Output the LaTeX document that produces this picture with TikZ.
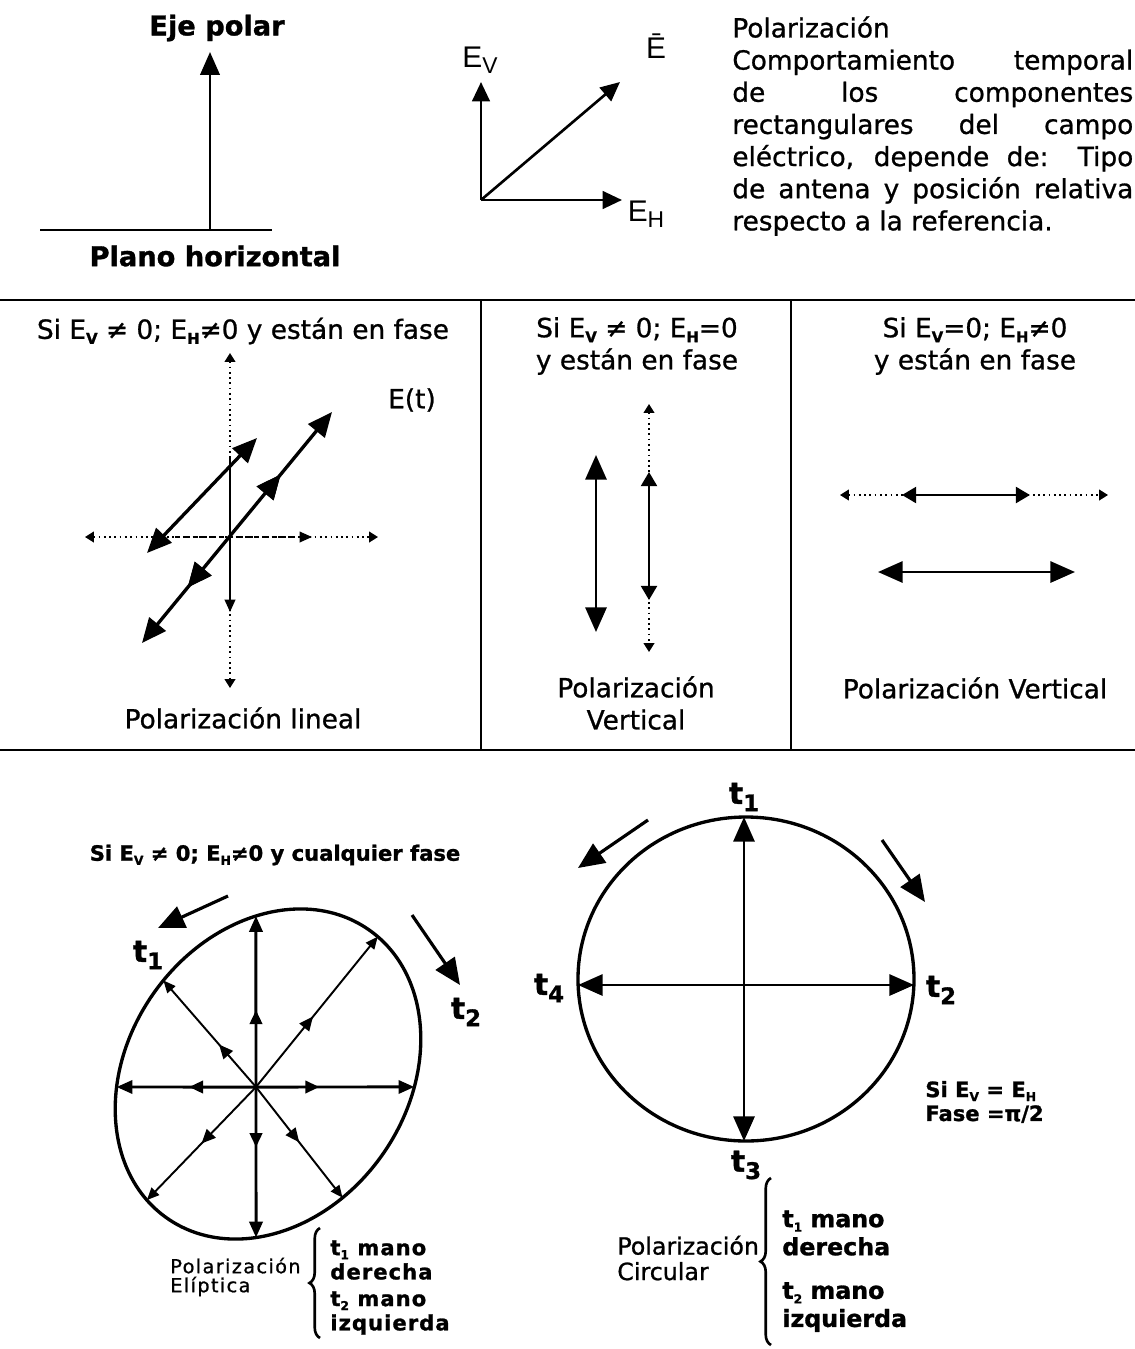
\documentclass[tikz,border=0pt]{standalone}
\usepackage{fontspec}
\setmainfont{DejaVu Sans}[UprightFeatures={FakeBold=0.9}, BoldFeatures={FakeBold=1.2}]
\newfontfamily\arialfont{Liberation Sans}
\usetikzlibrary{arrows.meta, positioning, calc, intersections, decorations.pathreplacing, decorations.markings}
\newcommand{\lowsub}[1]{\raisebox{-0.35ex}{\fontsize{8.5}{8.5}\selectfont\bfseries #1}}
\newcommand{\lowsubs}[1]{\raisebox{-0.35ex}{\fontsize{7}{7}\selectfont\bfseries #1}}
\newcommand{\tlabel}[1]{\textbf{t}\raisebox{-0.45ex}{\fontsize{13}{13}\selectfont #1}}

\begin{document}
\begin{tikzpicture}[
  x=0.02cm, y=-0.02cm,
  every node/.style={inner sep=0pt, font=\fontsize{15}{18.3}\selectfont},
  headText/.style={font=\bfseries\fontsize{15.5}{18}\selectfont},
  vecLabel/.style={font=\arialfont\fontsize{17}{17}\selectfont},
  heavyText/.style={font=\bfseries\fontsize{12}{13.6}\selectfont},
  braceText/.style={font=\bfseries\fontsize{12}{13.8}\selectfont\addfontfeature{LetterSpace=5}, align=left, anchor=west},
  smallText/.style={font=\fontsize{11}{10.8}\selectfont\addfontfeature{LetterSpace=7}, align=left, anchor=west},
  tText/.style={font=\bfseries\fontsize{17}{17}\selectfont},
  frameLine/.style={line width=1.6pt},
  vecLine/.style={line width=1.5pt},
  bigTips/.style={{Triangle[length=14pt,width=12pt]}-{Triangle[length=14pt,width=12pt]}},
  midTips/.style={{Triangle[length=8pt,width=9pt]}-{Triangle[length=8pt,width=9pt]}},
  tinyTips/.style={{Triangle[length=5pt,width=6pt]}-{Triangle[length=5pt,width=6pt]}},
  dotAxis/.style={line width=1pt, dotted},
  axisRay/.style={line width=1.7pt, -{Triangle[length=9pt,width=7.5pt]}},
  diagRay/.style={line width=1.1pt, -{Triangle[length=7pt,width=6pt]}},
  midTip/.style={postaction={decorate}, decoration={markings, mark=at position #1 with {\arrow{Triangle[length=8pt,width=7pt]}}}},
  backTip/.style={postaction={decorate}, decoration={markings, mark=at position #1 with {\arrowreversed{Triangle[length=14pt,width=12pt]}}}},
  fwdTip/.style={postaction={decorate}, decoration={markings, mark=at position #1 with {\arrow{Triangle[length=14pt,width=12pt]}}}},
  turnArrow/.style={line width=1.8pt, -{Triangle[length=15pt,width=13pt]}}
]
\useasboundingbox (0,0) rectangle (1135,1349);

% eje polar
\coordinate (planeL) at (40,230);
\coordinate (planeR) at (272,230);
\coordinate (axisFoot) at (210,230);
\coordinate (axisTop) at (210,52);
\draw[frameLine] (planeL) -- (planeR);
\draw[vecLine, -{Triangle[length=13pt,width=11pt]}] (axisFoot) -- (axisTop);
\node[headText] (ejeLabel) at (217,28) {Eje polar};
\node[headText] (planoLabel) at (215,256) {Plano horizontal};

% componentes
\coordinate (org) at (481,200);
\coordinate (evTip) at (481,82);
\coordinate (ehTip) at (622,200);
\coordinate (eTip) at (620,82);
\draw[vecLine, -{Triangle[length=11pt,width=10pt]}] (org) -- (evTip);
\draw[vecLine, -{Triangle[length=11pt,width=10pt]}] (org) -- (ehTip);
\draw[vecLine, -{Triangle[length=11pt,width=10pt]}] (org) -- (eTip);
\node[vecLabel] (evLabel) at (480,60) {E\raisebox{-0.4ex}{\fontsize{13}{13}\selectfont V}};
\node[vecLabel] (eLabel) at (656,46) {Ē};
\node[vecLabel] (ehLabel) at (646,214) {E\raisebox{-0.4ex}{\fontsize{13}{13}\selectfont H}};

\node[anchor=north west, text width=8.02cm, align=justify] (polDesc) at (732,16) {%
  Polarización\\
  Comportamiento temporal\linebreak
  de los componentes\linebreak
  rectangulares del campo\linebreak
  eléctrico, depende de: Tipo\linebreak
  de antena y posición relativa\linebreak
  respecto a la referencia.};

% marcos
\coordinate (ruleAL) at (0,300);
\coordinate (ruleAR) at (1135,300);
\coordinate (ruleBL) at (0,750);
\coordinate (ruleBR) at (1135,750);
\coordinate (divA1) at (481,300);
\coordinate (divA2) at (481,750);
\coordinate (divB1) at (791,300);
\coordinate (divB2) at (791,750);
\draw[frameLine] (ruleAL) -- (ruleAR);
\draw[frameLine] (ruleBL) -- (ruleBR);
\draw[line width=1.2pt] (divA1) -- (divA2);
\draw[line width=1.2pt] (divB1) -- (divB2);

% lineal
\node (linTitle) at (243,331) {Si E\lowsub{V} ≠ 0; E\lowsub{H}≠0 y están en fase};
\node (linCaption) at (243,718) {Polarización lineal};
\node (etLabel) at (412,400) {E(t)};
\coordinate (vTop) at (230,353);
\coordinate (vBot) at (230,688);
\coordinate (vSolidA) at (230,457);
\coordinate (vSolidB) at (230,612);
\coordinate (hLeft) at (85,537);
\coordinate (hRight) at (378,537);
\coordinate (hDashA) at (175,537);
\coordinate (hDashB) at (312,537);
\coordinate (aOneLo) at (147,553);
\coordinate (aOneHi) at (257,438);
\coordinate (aTwoLo) at (142,643);
\coordinate (aTwoHi) at (332,412);
\draw[dotAxis, tinyTips] (vTop) -- (vBot);
\draw[dotAxis, tinyTips] (hLeft) -- (hRight);
\draw[line width=1.1pt, -{Triangle[length=7pt,width=6pt]}] (vSolidA) -- (vSolidB);
\draw[line width=1pt, densely dashed, -{Triangle[length=7pt,width=6pt]}] (hDashA) -- (hDashB);
\draw[line width=1.9pt, bigTips] (aOneLo) -- (aOneHi);
\draw[line width=1.9pt, bigTips, fwdTip=0.73, backTip=0.24] (aTwoLo) -- (aTwoHi);

% vertical
\node[align=center] (verTitle) at (637,346) {Si E\lowsub{V} ≠ 0; E\lowsub{H}=0\\y están en fase};
\node[align=center] (verCaption) at (636,703) {Polarización\\Vertical};
\coordinate (pvA1) at (596,455);
\coordinate (pvA2) at (596,632);
\coordinate (pvB1) at (649,404);
\coordinate (pvB2) at (649,472);
\coordinate (pvB3) at (649,600);
\coordinate (pvB4) at (649,652);
\draw[vecLine, bigTips] (pvA1) -- (pvA2);
\draw[dotAxis, tinyTips] (pvB1) -- (pvB4);
\draw[vecLine, midTips] (pvB2) -- (pvB3);

% horizontal
\node[align=center] (horTitle) at (975,346) {Si E\lowsub{V}=0; E\lowsub{H}≠0\\y están en fase};
\node (horCaption) at (975,688) {Polarización Vertical};
\coordinate (phA1) at (840,495);
\coordinate (phA2) at (902,495);
\coordinate (phA3) at (1030,495);
\coordinate (phA4) at (1108,495);
\coordinate (phB1) at (878,572);
\coordinate (phB2) at (1075,572);
\draw[dotAxis, tinyTips] (phA1) -- (phA4);
\draw[vecLine, midTips] (phA2) -- (phA3);
\draw[vecLine, bigTips] (phB1) -- (phB2);

% eliptica
\node[heavyText] (eliTitle) at (275,855) {Si E\lowsubs{V} ≠ 0; E\lowsubs{H}≠0 y cualquier fase};
\coordinate (ellC) at (268,1074);
\coordinate (ellO) at (256,1087);
\draw[line width=1.9pt, name path=ellPath, rotate around={55:(ellC)}] (ellC) ellipse [x radius=176, y radius=140];
\foreach \ang/\rayStyle/\pos [count=\k] in {0/axisRay/0.4, 51/diagRay/0.47, 90/axisRay/0.45, 131/diagRay/0.4, 180/axisRay/0.48, 226/diagRay/0.5, 270/axisRay/0.4, 308/diagRay/0.5} {
  \path[name path=ray\k] (ellO) -- ($(ellO)+({300*cos(\ang)},{-300*sin(\ang)})$);
  \path[name intersections={of=ellPath and ray\k, by={rim\k}}];
  \draw[\rayStyle, midTip=\pos] (ellO) -- (rim\k);
}
\coordinate (eArrA1) at (228,896);
\coordinate (eArrA2) at (158,928);
\coordinate (eArrB1) at (412,915);
\coordinate (eArrB2) at (460,985);
\draw[turnArrow] (eArrA1) -- (eArrA2);
\draw[turnArrow] (eArrB1) -- (eArrB2);
\node[tText] (eT1) at (148,955) {\tlabel{1}};
\node[tText] (eT2) at (466,1012) {\tlabel{2}};
\node[smallText] (eliCaption) at (170,1277) {Polarización\\Elíptica};
\coordinate (eBraceLo) at (320,1338);
\coordinate (eBraceHi) at (320,1228);
\draw[line width=1.5pt, decorate, decoration={brace, amplitude=6pt}] (eBraceLo) -- (eBraceHi);
\node[braceText] (eHandR) at (330,1260) {t\lowsubs{1} mano\\derecha};
\node[braceText] (eHandL) at (330,1313) {t\lowsubs{2} mano\\izquierda};

% circular
\coordinate (circC) at (746,979);
\draw[line width=1.9pt] (circC) circle [x radius=168, y radius=162];
\coordinate (cTop) at (744,817);
\coordinate (cBot) at (744,1141);
\coordinate (cLeft) at (578,985);
\coordinate (cRight) at (914,985);
\draw[vecLine, bigTips] (cTop) -- (cBot);
\draw[vecLine, bigTips] (cLeft) -- (cRight);
\coordinate (cArrA1) at (648,820);
\coordinate (cArrA2) at (578,868);
\coordinate (cArrB1) at (882,840);
\coordinate (cArrB2) at (925,902);
\draw[turnArrow] (cArrA1) -- (cArrA2);
\draw[turnArrow] (cArrB1) -- (cArrB2);
\node[tText] (cT1) at (744,797) {\tlabel{1}};
\node[tText] (cT2) at (941,990) {\tlabel{2}};
\node[tText] (cT3) at (746,1165) {\tlabel{3}};
\node[tText] (cT4) at (549,988) {\tlabel{4}};
\node[heavyText, align=left, anchor=west] (cCond) at (925,1102) {Si E\lowsubs{V} = E\lowsubs{H}\\Fase =π/2};
\node[font=\fontsize{13.5}{14.5}\selectfont, align=left, anchor=west] (cirCaption) at (617,1258) {Polarización\\Circular};
\coordinate (cBraceLo) at (771,1345);
\coordinate (cBraceHi) at (771,1178);
\draw[line width=1.5pt, decorate, decoration={brace, amplitude=6pt}] (cBraceLo) -- (cBraceHi);
\node[braceText, font=\bfseries\fontsize{13.5}{16}\selectfont] (cHandR) at (782,1233) {t\lowsubs{1} mano\\derecha};
\node[braceText, font=\bfseries\fontsize{13.5}{16}\selectfont] (cHandL) at (782,1307) {t\lowsubs{2} mano\\izquierda};
\end{tikzpicture}
\end{document}
